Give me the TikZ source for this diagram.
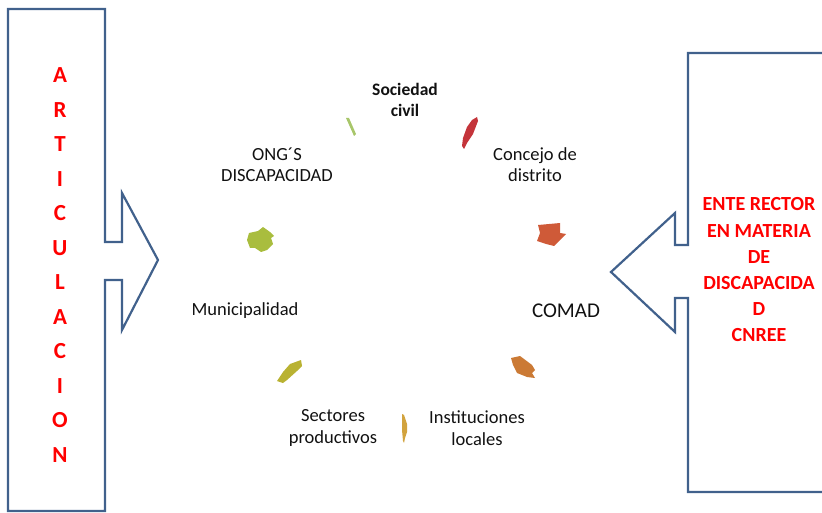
\documentclass[tikz,border=0pt]{standalone}
\usepackage{fontspec}
\setmainfont{Carlito}
\definecolor{boxblue}{HTML}{41618C}
\definecolor{redtxt}{HTML}{FF0000}
\definecolor{lbl}{HTML}{111111}
\definecolor{cgreen}{HTML}{A8C66A}
\definecolor{cred}{HTML}{C4343A}
\definecolor{cred2}{HTML}{CF5A38}
\definecolor{corange}{HTML}{CB7A35}
\definecolor{cgold}{HTML}{D2A33E}
\definecolor{colive}{HTML}{B9B232}
\definecolor{cyg}{HTML}{A9BD3E}
\begin{document}
\begin{tikzpicture}[x=1pt,y=-1pt,
  frame/.style={draw=boxblue,line width=2.2pt,line join=miter},
  redletters/.style={text=redtxt,font=\bfseries\fontsize{23}{34.5}\selectfont,align=center},
  redblock/.style={text=redtxt,font=\bfseries\fontsize{20}{26.2}\selectfont,align=center},
  label/.style={text=lbl,font=\fontsize{18.5}{21.5}\selectfont,align=center},
  blob/.style={draw=none}]
\useasboundingbox (0,0) rectangle (822,513);
% left box with arrow
\draw[frame] (8,9) -- (105,9) -- (105,242) -- (122,242) -- (122,193) -- (158,260)
  -- (122,330) -- (122,280) -- (105,280) -- (105,511) -- (8,511) -- cycle;
\node[redletters] (art) at (60,265) {A\\R\\T\\I\\C\\U\\L\\A\\C\\I\\O\\N};
% right box with arrow
\draw[frame] (830,53) -- (688,53) -- (688,245) -- (675,245) -- (675,213) -- (611,272)
  -- (675,332) -- (675,298) -- (688,298) -- (688,492) -- (830,492);
\node[redblock] (ente) at (759,270) {ENTE RECTOR\\EN MATERIA\\DE\\DISCAPACIDA\\D\\CNREE};
% labels
\node[label,font=\bfseries\fontsize{17.5}{21.5}\selectfont] (soc) at (405,100) {Sociedad\\civil};
\node[label] (ong) at (277,164.5) {ONG´S\\DISCAPACIDAD};
\node[label] (conc) at (535,164.5) {Concejo de\\distrito};
\node[label] (mun) at (245,311) {Municipalidad};
\node[label,font=\fontsize{21}{24}\selectfont] (comad) at (566,311) {COMAD};
\node[label] (sect) at (333,428) {Sectores\\productivos};
\node[label] (inst) at (477,428) {Instituciones\\locales};
% cycle arrow fragments
\fill[cgreen] (346,118) -- (349,118) -- (356,134) -- (354,136) -- cycle;
\fill[cred] (477,117) -- (478,121) -- (473,134) -- (467,143) -- (464,149) -- (462,146)
  -- (463,138) -- (467,127) -- (472,120) -- cycle;
\fill[cred2] (538,225) -- (560,223) -- (560,233) -- (566,234) -- (554,246) -- (546,244)
  -- (537,241) -- (540,233) -- cycle;
\fill[corange] (511,358) -- (520,356) -- (532,365) -- (535,370) -- (532,373) -- (535,378)
  -- (527,377) -- (517,373) -- (513,365) -- cycle;
\fill[cgold] (402,414) -- (404,415) -- (407,424) -- (407,432) -- (405,438) -- (404,443)
  -- (403,441) -- (402,430) -- cycle;
\fill[colive] (301,360) -- (302,366) -- (297,371) -- (287,380) -- (283,383) -- (277,381)
  -- (283,372) -- (290,364) -- cycle;
\fill[cyg] (249,233) -- (258,231) -- (263,227) -- (270,232) -- (274,236) -- (271,238)
  -- (273,244) -- (267,250) -- (261,252) -- (255,248) -- (250,248) -- (247,240) -- cycle;
\end{tikzpicture}
\end{document}
